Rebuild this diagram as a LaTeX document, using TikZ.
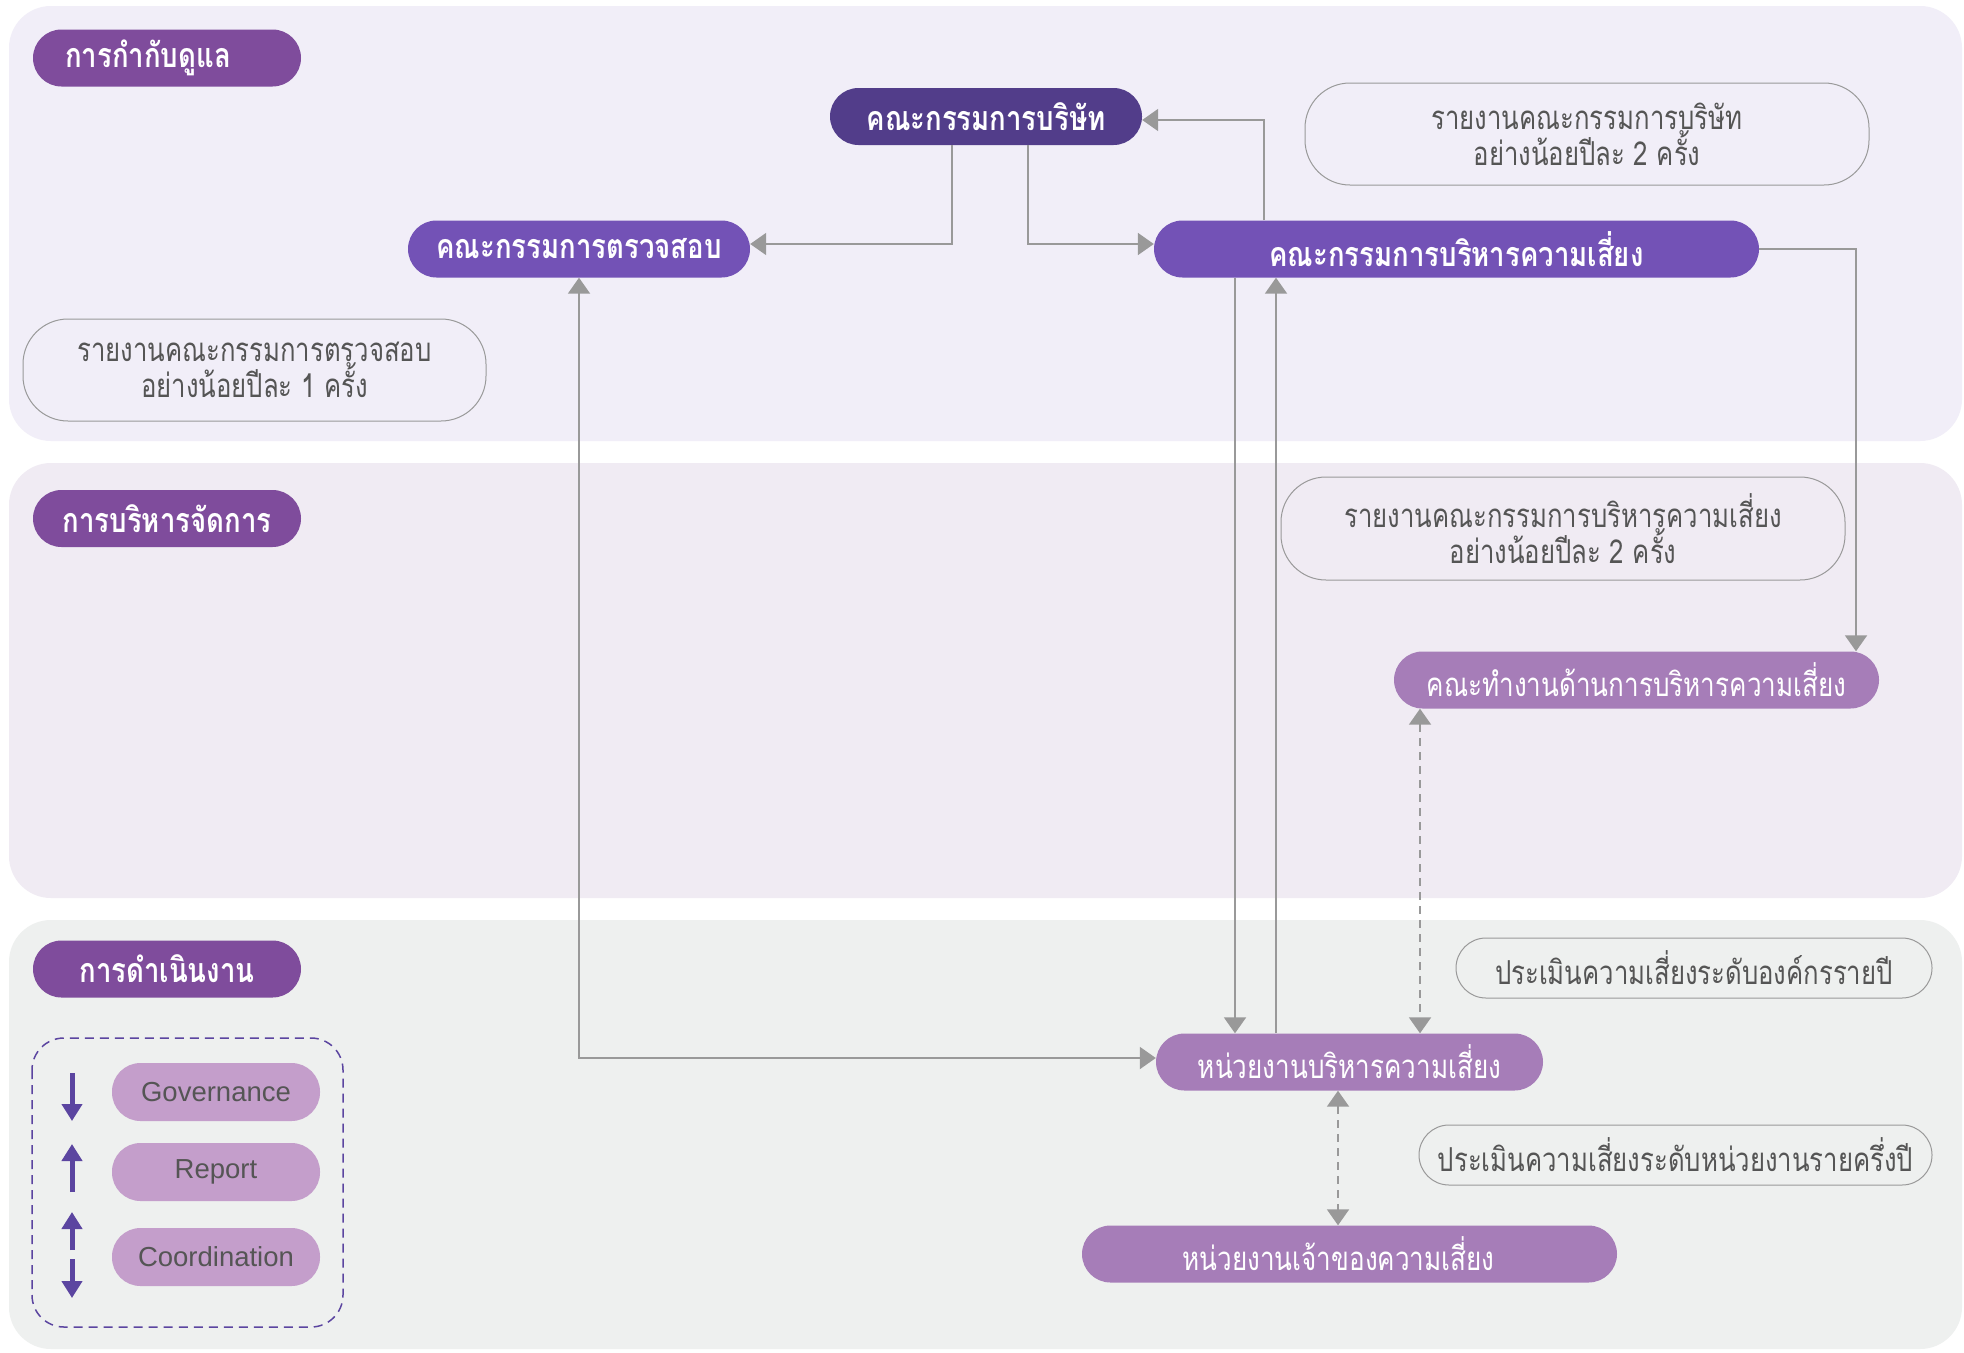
\documentclass[tikz,border=0pt]{standalone}
\usepackage{fontspec}
\setmainfont{Liberation Sans}
\newfontfamily\thai[Script=Thai,FakeStretch=0.79]{Loma}
\newfontfamily\thainote[Script=Thai,FakeStretch=0.78]{Loma}
\newfontfamily\thaib[Script=Thai,FakeStretch=0.81]{Loma}
\usetikzlibrary{arrows.meta,calc}
\definecolor{panelA}{HTML}{F1EEF8}
\definecolor{panelB}{HTML}{F0EBF3}
\definecolor{panelC}{HTML}{EEF0EF}
\definecolor{secC}{HTML}{7F4C9C}
\definecolor{boardC}{HTML}{523D8A}
\definecolor{midC}{HTML}{7352B6}
\definecolor{lightC}{HTML}{A67DB8}
\definecolor{legC}{HTML}{C49ECB}
\definecolor{lineC}{HTML}{999999}
\definecolor{noteT}{HTML}{555555}
\definecolor{legArrow}{HTML}{5B45A0}
\tikzset{
  pill/.style={rectangle, rounded corners=28.5pt, minimum height=57pt, inner sep=0pt, text=white},
  secpill/.style={pill, fill=secC, minimum width=268pt, font=\thaib\bfseries\fontsize{34}{40}\selectfont},
  boardpill/.style={pill, fill=boardC, font=\thaib\bfseries\fontsize{34}{40}\selectfont},
  midpill/.style={pill, fill=midC, font=\thaib\bfseries\fontsize{34}{40}\selectfont},
  lightpill/.style={pill, fill=lightC, font=\thai\fontsize{33}{39}\selectfont},
  legpill/.style={pill, fill=legC, text=noteT, minimum width=208pt, minimum height=58pt, font=\fontsize{27.5}{32}\selectfont},
  notebox/.style={rectangle, draw=lineC, line width=1pt, rounded corners=45pt, inner sep=0pt, text=noteT, align=center, font=\thainote\fontsize{33}{36}\selectfont},
  noteone/.style={notebox, rounded corners=30pt, minimum height=60pt},
  conn/.style={draw=lineC, line width=2pt, -{Triangle[width=22pt,length=16pt]}},
  conn2/.style={conn, {Triangle[width=22pt,length=16pt]}-{Triangle[width=22pt,length=16pt]}},
  dconn/.style={conn2, dash pattern=on 8pt off 6pt},
  legarrow/.style={draw=legArrow, line width=5pt, -{Triangle[width=20pt,length=17pt]}},
}
\begin{document}
\begin{tikzpicture}[x=1pt,y=-1pt]
\useasboundingbox (0,0) rectangle (1964,1352);
\fill[white] (0,0) rectangle (1964,1352);
% panels
\fill[panelA, rounded corners=42pt] (9,6) rectangle (1962,441);
\fill[panelB, rounded corners=42pt] (9,463) rectangle (1962,898);
\fill[panelC, rounded corners=42pt] (9,920) rectangle (1962,1349);
% section labels
\node[secpill] (sec1) at (167,58) {\hspace*{-38pt}การกำกับดูแล};
\node[secpill] (sec2) at (167,518.5) {การบริหารจัดการ};
\node[secpill] (sec3) at (167,969) {การดำเนินงาน};
% main nodes
\node[boardpill, minimum width=312pt] (board) at (986,116.5) {คณะกรรมการบริษัท};
\node[midpill, minimum width=342pt] (audit) at (579,249) {คณะกรรมการตรวจสอบ};
\node[midpill, minimum width=605pt] (rmc) at (1456.5,249) {คณะกรรมการบริหารความเสี่ยง};
\node[lightpill, minimum width=485pt] (wg) at (1636.5,680) {คณะทำงานด้านการบริหารความเสี่ยง};
\node[lightpill, minimum width=387pt] (unit) at (1349.5,1062) {หน่วยงานบริหารความเสี่ยง};
\node[lightpill, minimum width=535pt] (owner) at (1349.5,1254) {\hspace*{-22pt}หน่วยงานเจ้าของความเสี่ยง};
% notes
\node[notebox, minimum width=564pt, minimum height=102pt] (n1) at (1587,134) {รายงานคณะกรรมการบริษัท\\อย่างน้อยปีละ 2 ครั้ง};
\node[notebox, minimum width=463pt, minimum height=102pt] (n2) at (254.5,370) {รายงานคณะกรรมการตรวจสอบ\\อย่างน้อยปีละ 1 ครั้ง};
\node[notebox, minimum width=564pt, minimum height=103pt] (n3) at (1563,528.5) {รายงานคณะกรรมการบริหารความเสี่ยง\\อย่างน้อยปีละ 2 ครั้ง};
\node[noteone, minimum width=476pt] (n4) at (1694,968) {ประเมินความเสี่ยงระดับองค์กรรายปี};
\node[noteone, minimum width=513pt] (n5) at (1675.5,1155) {ประเมินความเสี่ยงระดับหน่วยงานรายครึ่งปี};
% columns for vertical connectors
\coordinate (cA) at (951.5,0);
\coordinate (cB) at (1028,0);
\coordinate (cC) at (1263.5,0);
\coordinate (cD) at (1856,0);
\coordinate (cE) at (1235,0);
\coordinate (cF) at (1276,0);
\coordinate (cG) at (1420,0);
\coordinate (cH) at (1338,0);
% connectors
\draw[conn] (board.south -| cA) |- ([yshift=5pt]audit.east);
\draw[conn] (board.south -| cB) |- ([yshift=5pt]rmc.west);
\draw[conn] (rmc.north -| cC) |- ([yshift=-3.5pt]board.east);
\draw[conn] (rmc.east) -| (wg.north -| cD);
\draw[conn] (rmc.south -| cE) -- (unit.north -| cE);
\draw[conn] (unit.north -| cF) -- (rmc.south -| cF);
\draw[dconn] (wg.south -| cG) -- (unit.north -| cG);
\draw[conn2] (audit.south) |- ([yshift=4pt]unit.west);
\draw[dconn] (unit.south -| cH) -- (owner.north -| cH);
% legend
\draw[legArrow, dashed, dash pattern=on 9pt off 6pt, line width=1.5pt, rounded corners=32pt] (32,1038) rectangle (343,1327);
\node[legpill] (lg1) at (216,1092) {Governance};
\node[legpill] (lg2) at (216,1172) {Report};
\node[legpill] (lg3) at (216,1257) {Coordination};
\coordinate (a1s) at (72,1073); \coordinate (a1e) at (72,1121);
\coordinate (a2s) at (72,1192); \coordinate (a2e) at (72,1144);
\coordinate (a3s) at (72,1250); \coordinate (a3e) at (72,1212);
\coordinate (a4s) at (72,1259); \coordinate (a4e) at (72,1298);
\draw[legarrow] (a1s) -- (a1e);
\draw[legarrow] (a2s) -- (a2e);
\draw[legarrow] (a3s) -- (a3e);
\draw[legarrow] (a4s) -- (a4e);
\end{tikzpicture}
\end{document}
